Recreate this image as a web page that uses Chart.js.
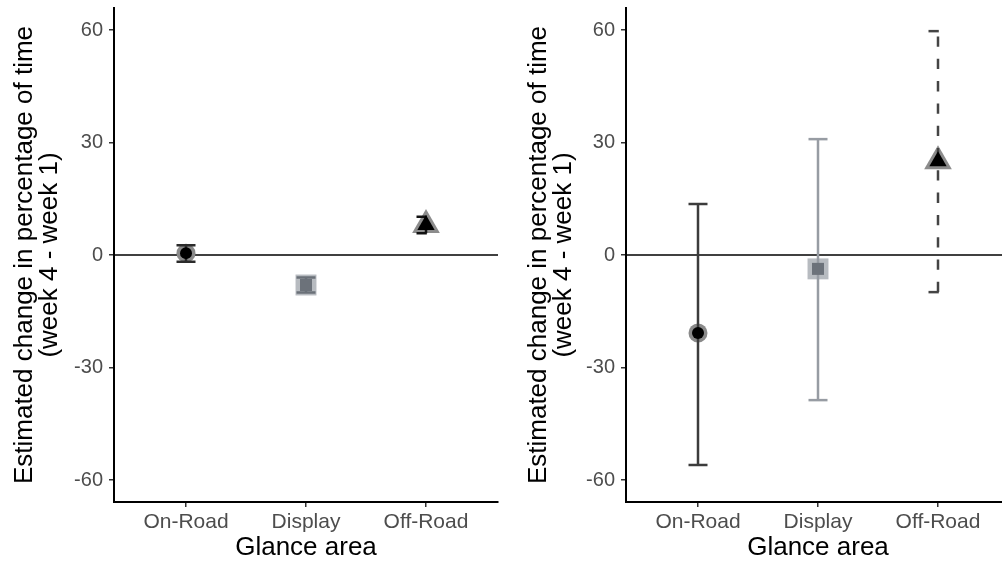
<!DOCTYPE html>
<html>
<head>
<meta charset="utf-8">
<script src="https://cdn.jsdelivr.net/npm/chart.js@4.4.1/dist/chart.umd.min.js"></script>
<style>
  html, body { margin: 0; padding: 0; background: #fff; overflow: hidden; }
  #wrap { position: relative; width: 1002px; height: 562px; overflow: hidden; }
  canvas { position: absolute; top: 0; }
</style>
</head>
<body>
<div id="wrap">
  <canvas id="leftChart" width="501" height="562" style="left:0"></canvas>
  <canvas id="rightChart" width="509" height="562" style="left:501px"></canvas>
</div>
<script>
// categories and tick labels
const glanceAreas = ['On-Road', 'Display', 'Off-Road'];
const yTickValues = [-60, -30, 0, 30, 60];

// left panel: estimate and interval
const leftEstimate = [0.5, -8, 8];
const leftLower = [-1.8, -10, 5.8];
const leftUpper = [2.6, -6, 10.2];

// right panel: estimate and interval
const rightEstimate = [-20.8, -3.7, 25];
const rightLower = [-56, -38.7, -9.9];
const rightUpper = [13.6, 30.9, 59.7];

// marker look per glance area
const markerShapes = ['circle', 'rect', 'triangle'];
const outerRadius = [9.5, 14.8, 16];
const innerRadius = [6, 8.5, 10];
const outerColors = ['#8a8a8a', '#b7bbc0', '#8c8c8c'];
const innerColors = ['#000000', '#6c727a', '#000000'];
const dashedBars = [false, false, true];

const FONT = "'Liberation Sans', Arial, sans-serif";

// zero line + error bars, drawn between the outer and inner markers
const errorBarPlugin = {
    id: 'errorBars',
    beforeDatasetsDraw(chart) {
        const { ctx, chartArea, scales: { y } } = chart;
        const y0 = y.getPixelForValue(0);
        ctx.save();
        ctx.strokeStyle = '#000';
        ctx.lineWidth = 1.6;
        ctx.beginPath();
        ctx.moveTo(chartArea.left, y0);
        ctx.lineTo(chartArea.right, y0);
        ctx.stroke();
        ctx.restore();
    },
    afterDatasetDraw(chart, args, opts) {
        // dataset 1 = outer markers (drawn first, chart.js draws in reverse)
        if (args.index !== 1) return;
        const { ctx, scales: { x, y } } = chart;
        const half = 9.5;
        ctx.save();
        ctx.lineWidth = 2.5;
        ctx.lineCap = 'butt';
        opts.lower.forEach(function(lo, i) {
            const px = x.getPixelForValue(i);
            const yLo = y.getPixelForValue(lo);
            const yHi = y.getPixelForValue(opts.upper[i]);
            ctx.strokeStyle = opts.colors[i];
            ctx.setLineDash(dashedBars[i] ? [10.3, 12] : []);
            ctx.beginPath();
            ctx.moveTo(px - half, yHi);
            ctx.lineTo(px + half, yHi);
            ctx.stroke();
            ctx.beginPath();
            ctx.moveTo(px, yLo);
            ctx.lineTo(px, yHi);
            ctx.stroke();
            ctx.beginPath();
            ctx.moveTo(px - half, yLo);
            ctx.lineTo(px + half, yLo);
            ctx.stroke();
        });
        ctx.restore();
    }
};

function makePanel(canvasId, estimate, lower, upper, barColors, yAxisWidth, titlePad) {
    const points = estimate.map(function(v, i) { return { x: i, y: v }; });
    const ctx = document.getElementById(canvasId).getContext('2d');
    return new Chart(ctx, {
        type: 'scatter',
        data: {
            datasets: [{
                data: points,
                pointStyle: markerShapes,
                pointRadius: innerRadius,
                pointBackgroundColor: innerColors,
                pointBorderWidth: 0
            }, {
                data: points,
                pointStyle: markerShapes,
                pointRadius: outerRadius,
                pointBackgroundColor: outerColors,
                pointBorderWidth: 0
            }]
        },
        plugins: [errorBarPlugin],
        options: {
            responsive: false,
            animation: false,
            devicePixelRatio: 1,
            events: [],
            layout: {
                autoPadding: false,
                padding: { top: 8, right: canvasId === 'leftChart' ? 3 : 0, left: 0, bottom: 0 }
            },
            plugins: {
                legend: { display: false },
                tooltip: { enabled: false },
                errorBars: { lower: lower, upper: upper, colors: barColors }
            },
            scales: {
                x: {
                    type: 'linear',
                    min: -0.6,
                    max: 2.6,
                    afterBuildTicks: function(scale) {
                        scale.ticks = glanceAreas.map(function(_, i) { return { value: i }; });
                    },
                    afterFit: function(scale) {
                        scale.height = 60;
                        scale.paddingLeft = 0;
                        scale.paddingRight = 0;
                    },
                    ticks: {
                        callback: function(value) { return glanceAreas[value]; },
                        color: '#4d4d4d',
                        font: { family: FONT, size: 21 },
                        padding: 3,
                        maxRotation: 0
                    },
                    grid: { drawOnChartArea: false, drawTicks: true, tickLength: 5, color: '#333', lineWidth: 1.5 },
                    border: { display: true, color: '#000', width: 2 },
                    title: {
                        display: true,
                        text: 'Glance area',
                        color: '#000',
                        font: { family: FONT, size: 26, lineHeight: 1 },
                        padding: { top: 0, bottom: 1 }
                    }
                },
                y: {
                    min: -65.87,
                    max: 65.87,
                    afterBuildTicks: function(scale) {
                        scale.ticks = yTickValues.map(function(v) { return { value: v }; });
                    },
                    afterFit: function(scale) {
                        scale.width = yAxisWidth;
                        scale.paddingTop = 0;
                        scale.paddingBottom = 0;
                    },
                    ticks: {
                        color: '#4d4d4d',
                        font: { family: FONT, size: 20 },
                        padding: 6
                    },
                    grid: { drawOnChartArea: false, drawTicks: true, tickLength: 5, color: '#333', lineWidth: 1.5 },
                    border: { display: true, color: '#000', width: 2 },
                    title: {
                        display: true,
                        text: ['Estimated change in percentage of time', '(week 4 - week 1)'],
                        color: '#000',
                        font: { family: FONT, size: 26, lineHeight: 0.96 },
                        padding: { top: titlePad, bottom: 0 }
                    }
                }
            }
        }
    });
}

document.addEventListener('DOMContentLoaded', function() {
    makePanel('leftChart', leftEstimate, leftLower, leftUpper,
        ['#2b2b2b', '#6a7078', '#111111'], 114, 12);
    makePanel('rightChart', rightEstimate, rightLower, rightUpper,
        ['#3c3c3c', '#979ca3', '#444444'], 125, 25);
});
</script>
</body>
</html>
